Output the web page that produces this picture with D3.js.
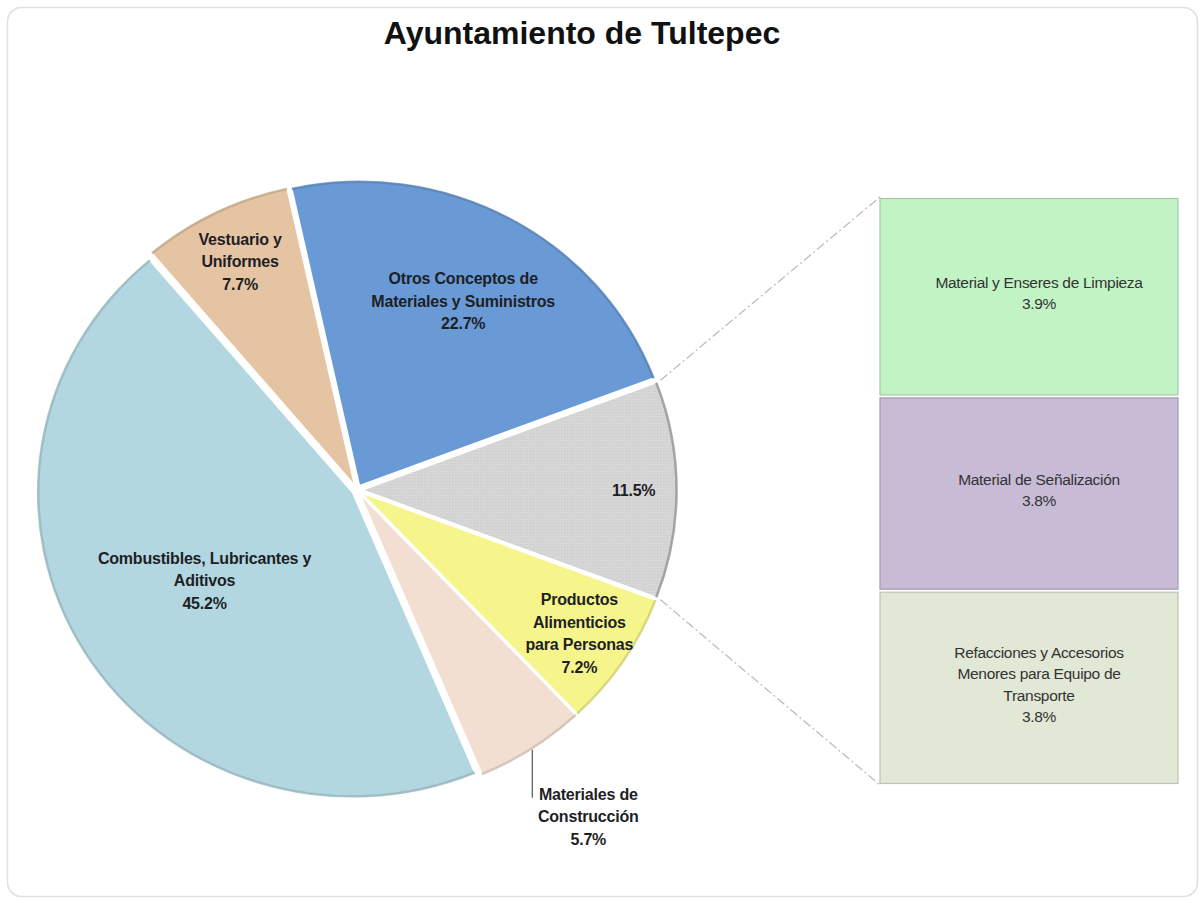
<!DOCTYPE html>
<html>
<head>
<meta charset="utf-8">
<script src="https://cdn.jsdelivr.net/npm/d3@7"></script>
<style>
  body { margin: 0; background: #ffffff; }
  svg { display: block; }
</style>
</head>
<body>
<div id="pie-of-bar"></div>
<script>
// Pie slices, in drawing order starting from the grouped "other" slice
var pieNames = ["Otros", "Productos Alimenticios para Personas", "Materiales de Construcción",
  "Combustibles, Lubricantes y Aditivos", "Vestuario y Uniformes", "Otros Conceptos de Materiales y Suministros"];
var pieLines = [[], ["Productos", "Alimenticios", "para Personas"], ["Materiales de", "Construcción"],
  ["Combustibles, Lubricantes y", "Aditivos"], ["Vestuario y", "Uniformes"], ["Otros Conceptos de", "Materiales y Suministros"]];
var pieValues = [11.5, 7.2, 5.7, 45.2, 7.7, 22.7];

// Bar (breakdown of the grouped slice), top to bottom
var barNames = ["Material y Enseres de Limpieza", "Material de Señalización",
  "Refacciones y Accesorios Menores para Equipo de Transporte"];
var barLines = [["Material y Enseres de Limpieza"], ["Material de Señalización"],
  ["Refacciones y Accesorios", "Menores para Equipo de", "Transporte"]];
var barValues = [3.9, 3.8, 3.8];

var width = 1203;
var height = 903;

var pieColors = ["#d6d6d6", "#f6f58c", "#f3dfd2", "#b3d7e0", "#e5c4a3", "#6a9ad5"];
var barColors = ["#c1f3c5", "#c7bbd6", "#e2e8d6"];

// label distance from centre (fraction of radius), -1 means outside with a leader
var labelRadius = [0.86, 0.83, -1, 0.55, 0.82, 0.69];

var svg = d3.select("#pie-of-bar")
  .append("svg")
  .attr("width", width)
  .attr("height", height);

// dotted texture for the grey slice
var defs = svg.append("defs");
var pat = defs.append("pattern")
  .attr("id", "dots")
  .attr("width", 3)
  .attr("height", 3)
  .attr("patternUnits", "userSpaceOnUse");
pat.append("rect").attr("width", 3).attr("height", 3).attr("fill", "#d6d6d6");
pat.append("rect").attr("width", 1).attr("height", 1).attr("fill", "#c8c8c8");

// outer frame
svg.append("rect")
  .attr("x", 7.5).attr("y", 7.5)
  .attr("width", 1190).attr("height", 889)
  .attr("rx", 14)
  .attr("fill", "none")
  .attr("stroke", "#e0e0e0")
  .attr("stroke-width", 1.5);

// title
svg.append("text")
  .attr("x", 582)
  .attr("y", 44)
  .attr("text-anchor", "middle")
  .style("font-family", "Liberation Sans, Arial, sans-serif")
  .style("font-weight", "bold")
  .style("font-size", "32px")
  .style("fill", "#111")
  .text("Ayuntamiento de Tultepec");

// Pie (slightly wider than tall, like the original picture)
var cx = 357, cy = 490, radius = 305, explode = 5, sx = 1.035;
var total = d3.sum(pieValues);
var startA = Math.PI / 2 - (pieValues[0] / total) * Math.PI;

var pie = d3.pie()
  .sort(null)
  .startAngle(startA)
  .endAngle(startA + 2 * Math.PI);

var arc = d3.arc().innerRadius(0).outerRadius(radius);
var rim = d3.arc().innerRadius(radius - 2.5).outerRadius(radius);

var arcsData = pie(pieValues);

function offset(d) {
  var mid = (d.startAngle + d.endAngle) / 2;
  return [explode * Math.sin(mid), -explode * Math.cos(mid)];
}

var pieG = svg.append("g")
  .attr("transform", "translate(" + cx + "," + cy + ")");

var slices = pieG.append("g")
  .attr("transform", "scale(" + sx + ",1)")
  .selectAll("g.slice")
  .data(arcsData)
  .enter()
  .append("g")
  .attr("class", "slice")
  .attr("transform", function (d) { return "translate(" + offset(d) + ")"; });

slices.append("path")
  .attr("d", arc)
  .attr("fill", function (d, i) { return i === 0 ? "url(#dots)" : pieColors[i]; })
  .attr("stroke", "#ffffff")
  .attr("stroke-width", 1.5);

// darker outer rim for the bevel look
slices.append("path")
  .attr("d", rim)
  .attr("fill", function (d, i) { return d3.color(pieColors[i]).darker(i === 0 ? 1.1 : 0.5); })
  .attr("opacity", 0.75);

var labelFont = "Liberation Sans, Arial, sans-serif";

// slice labels
arcsData.forEach(function (d, i) {
  var off = offset(d);
  var mid = (d.startAngle + d.endAngle) / 2;
  var lines = pieLines[i].concat([pieValues[i].toFixed(1) + "%"]);
  var lh = 22.5;
  var px, py;
  if (labelRadius[i] > 0) {
    var r = radius * labelRadius[i];
    px = sx * (off[0] + r * Math.sin(mid));
    py = off[1] - r * Math.cos(mid) - (lines.length - 1) * lh / 2;
  } else {
    // outside label with a vertical leader from the arc
    var ax = sx * (off[0] + radius * Math.sin(mid));
    var ay = off[1] - radius * Math.cos(mid);
    pieG.append("line")
      .attr("x1", ax).attr("y1", ay)
      .attr("x2", ax).attr("y2", ay + 48)
      .attr("stroke", "#555")
      .attr("stroke-width", 1.2);
    px = ax + 56;
    py = ay + 44;
  }
  var t = pieG.append("text")
    .attr("text-anchor", "middle")
    .style("font-family", labelFont)
    .style("font-weight", "bold")
    .style("font-size", "16px")
    .style("letter-spacing", "-0.2px")
    .style("fill", "#1e1e26");
  lines.forEach(function (s, k) {
    t.append("tspan")
      .attr("x", px)
      .attr("y", py + k * lh + 6)
      .text(s);
  });
});

// Bar of the grouped slice
var barX = 880, barW = 298;
var y = d3.scaleLinear()
  .domain([0, d3.sum(barValues)])
  .range([197, 785]);

var cum = 0;
var barData = barValues.map(function (v, i) {
  var o = { name: barNames[i], lines: barLines[i], value: v, y0: cum, y1: cum + v, color: barColors[i] };
  cum += v;
  return o;
});

var bars = svg.append("g");

bars.selectAll("rect")
  .data(barData)
  .enter()
  .append("rect")
  .attr("x", barX)
  .attr("y", function (d) { return y(d.y0) + 1.5; })
  .attr("width", barW)
  .attr("height", function (d) { return y(d.y1) - y(d.y0) - 3; })
  .attr("fill", function (d) { return d.color; })
  .attr("stroke", function (d) { return d3.color(d.color).darker(0.5); })
  .attr("stroke-width", 1.2);

barData.forEach(function (d) {
  var lines = d.lines.concat([d.value.toFixed(1) + "%"]);
  var lh = 21.5;
  var mx = barX + barW / 2 + 10;
  var my = (y(d.y0) + y(d.y1)) / 2 - (lines.length - 1) * lh / 2 - 3;
  var t = bars.append("text")
    .attr("text-anchor", "middle")
    .style("font-family", labelFont)
    .style("font-size", "15.5px")
    .style("letter-spacing", "-0.3px")
    .style("fill", "#333");
  lines.forEach(function (s, k) {
    t.append("tspan")
      .attr("x", mx)
      .attr("y", my + k * lh + 5)
      .text(s);
  });
});

// connector lines from grey slice to bar
var g0 = arcsData[0];
var go = offset(g0);
var p1 = [cx + sx * (go[0] + radius * Math.sin(g0.startAngle)), cy + go[1] - radius * Math.cos(g0.startAngle)];
var p2 = [cx + sx * (go[0] + radius * Math.sin(g0.endAngle)), cy + go[1] - radius * Math.cos(g0.endAngle)];

svg.append("line")
  .attr("x1", p1[0] + 3).attr("y1", p1[1] - 2)
  .attr("x2", barX).attr("y2", y(0))
  .attr("stroke", "#bdbdbd")
  .attr("stroke-width", 1.3)
  .attr("stroke-dasharray", "9,3,2,3");

svg.append("line")
  .attr("x1", p2[0] + 3).attr("y1", p2[1] + 2)
  .attr("x2", barX).attr("y2", y(d3.sum(barValues)))
  .attr("stroke", "#bdbdbd")
  .attr("stroke-width", 1.3)
  .attr("stroke-dasharray", "9,3,2,3");
</script>
</body>
</html>
